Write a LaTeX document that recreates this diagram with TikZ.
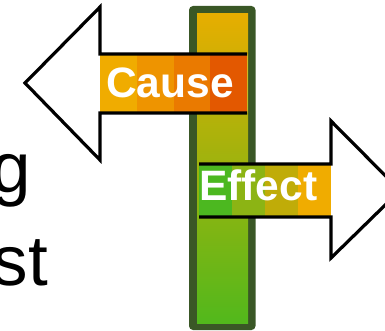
\documentclass[tikz,border=0pt]{standalone}
\usepackage{fontspec}
\setmainfont{Liberation Sans}
\usepackage{xcolor}
\usepackage{tikz}
\usetikzlibrary{positioning}
\definecolor{barrim}{HTML}{3A5726}
\definecolor{bartop}{HTML}{E6AE00}
\definecolor{barmid}{HTML}{B2AE0C}
\definecolor{barbottom}{HTML}{52B81C}
\definecolor{causeA}{HTML}{F0AC00}
\definecolor{causeB}{HTML}{EE9400}
\definecolor{causeC}{HTML}{EA7A00}
\definecolor{causeD}{HTML}{E35800}
\definecolor{effectA}{HTML}{4CB820}
\definecolor{effectB}{HTML}{8CB414}
\definecolor{effectC}{HTML}{C0AC08}
\definecolor{effectD}{HTML}{F0AC00}
\tikzset{
    outline/.style={draw=black, line width=3.2pt, line join=miter, fill=white},
    signtext/.style={text=white, inner sep=0pt, font=\bfseries\fontsize{42.5}{50}\selectfont},
    bigword/.style={text=black, inner sep=0pt, anchor=base east, font=\fontsize{71}{85}\selectfont}
}

\begin{document}
\begin{tikzpicture}[x=1pt, y=-1pt]
  \useasboundingbox (0,0) rectangle (385,331);
  \clip (0,0) rectangle (385,331);
  % words cut off at the left
  \node[bigword] (word1) at (31,192) {g};
  \node[bigword] (word2) at (48,285) {st};
  % the post
  \fill[barrim, rounded corners=4pt] (189,6) rectangle (255.5,330);
  \shade[top color=bartop, middle color=barmid, bottom color=barbottom] (197,14) rectangle (248,323);
  % cause arrow, pointing left
  \fill[white] (247,54) -- (100,54) -- (100,7) -- (25,83) -- (100,160) -- (100,113) -- (247,113) -- cycle;
  \foreach \i/\c in {0/causeA, 1/causeB, 2/causeC, 3/causeD}
    \fill[\c] ({100+36.75*\i},54) rectangle ({100+36.75*(\i+1)},113);
  \draw[outline, fill=none] (247,54) -- (100,54) -- (100,7) -- (25,83) -- (100,160) -- (100,113) -- (247,113);
  \node[signtext, anchor=base west] (cause) at (106,98) {Cause};
  % effect arrow, pointing right
  \fill[white] (199,164) -- (331,164) -- (331,121) -- (400,190.5) -- (331,258) -- (331,217) -- (199,217) -- cycle;
  \foreach \i/\c in {0/effectA, 1/effectB, 2/effectC, 3/effectD}
    \fill[\c] ({199+33*\i},164) rectangle ({199+33*(\i+1)},217);
  \draw[outline, fill=none] (199,164) -- (331,164) -- (331,121) -- (400,190.5) -- (331,258) -- (331,217) -- (199,217);
  \node[signtext, anchor=base west] (effect) at (199,200) {Effect};
\end{tikzpicture}
\end{document}
